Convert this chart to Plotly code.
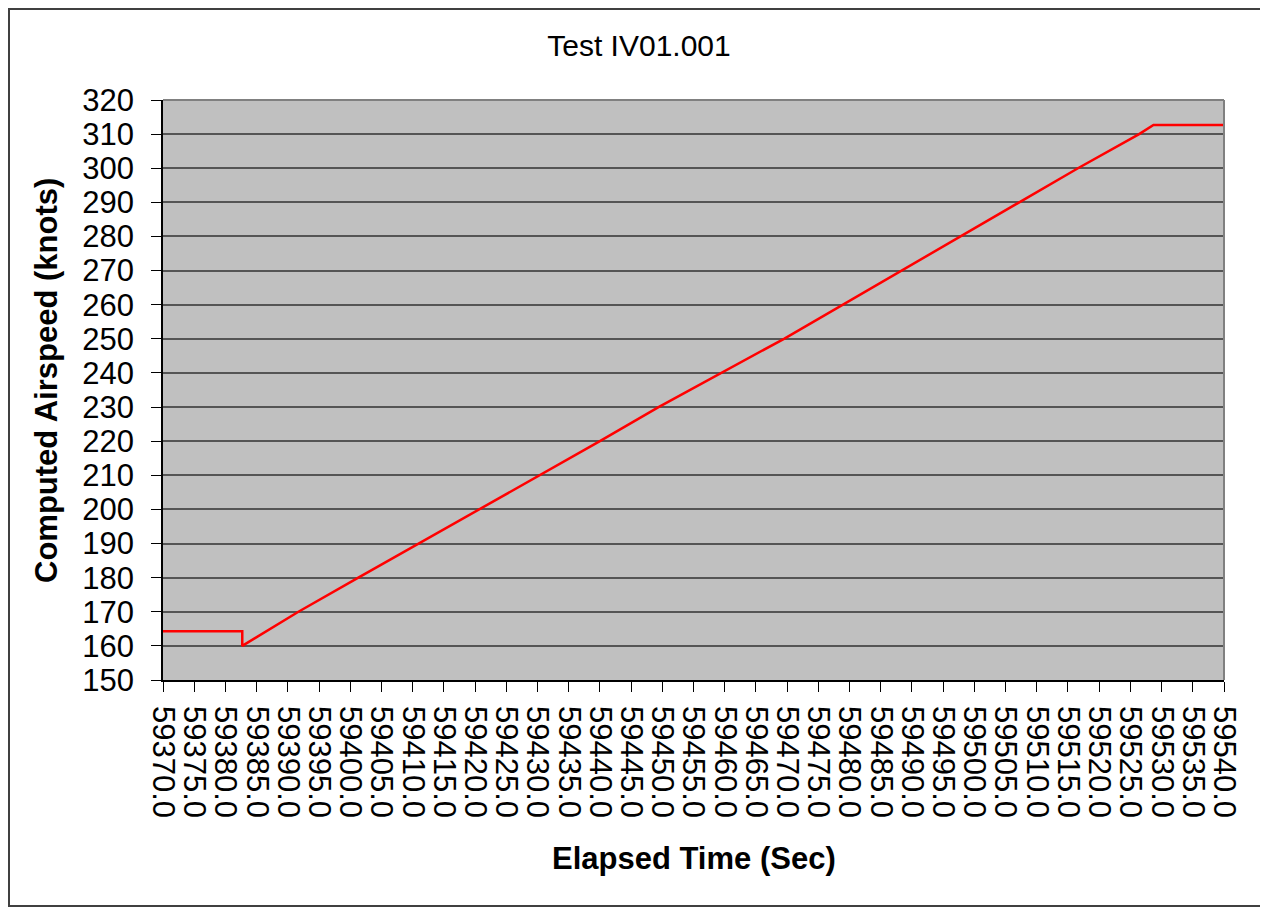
import plotly.graph_objects as go

# Elapsed time (sec) vs computed airspeed (knots)
elapsed_time = [59370.0, 59382.7, 59382.7, 59391.7, 59401.3, 59440.0, 59449.4,
                59469.5, 59516.6, 59526.4, 59528.7, 59540.0]
airspeed = [164.3, 164.3, 160.0, 170.0, 180.0, 220.0, 230.0,
            250.0, 300.0, 310.0, 312.7, 312.7]

x_tick_vals = list(range(59370, 59545, 5))
x_tick_text = [f"{v:.1f}" for v in x_tick_vals]
y_tick_vals = list(range(150, 330, 10))

FONT = "Liberation Sans, Arial, sans-serif"

# page has an 8px body margin, so the figure is shrunk by that much
W, H = 1260, 901
fig = go.Figure()
fig.add_trace(go.Scatter(
    x=elapsed_time, y=airspeed, mode="lines",
    line=dict(color="#FF0000", width=2.5),
    showlegend=False,
))

fig.update_layout(
    width=W, height=H,
    margin=dict(l=155, r=44, t=92, b=229),
    paper_bgcolor="white",
    plot_bgcolor="#C0C0C0",
    font=dict(family=FONT, color="black"),
    title=dict(text="Test IV01.001", x=631 / W, xanchor="center",
               y=1 - 37 / H, yanchor="middle", yref="container",
               font=dict(size=30, family=FONT, color="black")),
)

fig.update_xaxes(
    range=[59370, 59540], tickmode="array",
    tickvals=x_tick_vals, ticktext=x_tick_text, tickangle=90,
    tickfont=dict(size=31), ticks="outside", ticklen=10, tickcolor="black",
    ticklabelstandoff=8,
    showgrid=False, zeroline=False, showline=True, linecolor="black", linewidth=1.5,
)
fig.update_yaxes(
    range=[150, 320], tickmode="array", tickvals=y_tick_vals,
    tickfont=dict(size=31), ticks="outside", ticklen=10, tickcolor="black",
    ticklabelstandoff=11,
    showgrid=True, gridcolor="#555555", gridwidth=1.5,
    zeroline=False, showline=True, linecolor="black", linewidth=1.5,
)

# gray plot-area border (top and right)
fig.add_shape(type="line", xref="paper", yref="paper", x0=0, x1=1, y0=1, y1=1,
              line=dict(color="#808080", width=2))
fig.add_shape(type="line", xref="paper", yref="paper", x0=1, x1=1, y0=0, y1=1,
              line=dict(color="#808080", width=2))
# outer chart border
fig.add_shape(type="rect", xref="paper", yref="paper",
              x0=(9 - 163) / 1061, x1=(1265 - 163) / 1061,
              y0=(680 - 906) / 580, y1=(680 - 9) / 580,
              line=dict(color="#404040", width=2), fillcolor="rgba(0,0,0,0)")

fig.add_annotation(text="<b>Computed Airspeed (knots)</b>", xref="paper", yref="paper",
                   x=(46 - 163) / 1061, y=(680 - 381) / 580, textangle=-90,
                   xanchor="center", yanchor="middle",
                   showarrow=False, font=dict(size=31, family=FONT, color="black"))
fig.add_annotation(text="<b>Elapsed Time (Sec)</b>", xref="paper", yref="paper",
                   x=0.5, y=(680 - 858) / 580, xanchor="center", yanchor="middle",
                   showarrow=False, font=dict(size=31, family=FONT, color="black"))

fig.write_html("out.html")
